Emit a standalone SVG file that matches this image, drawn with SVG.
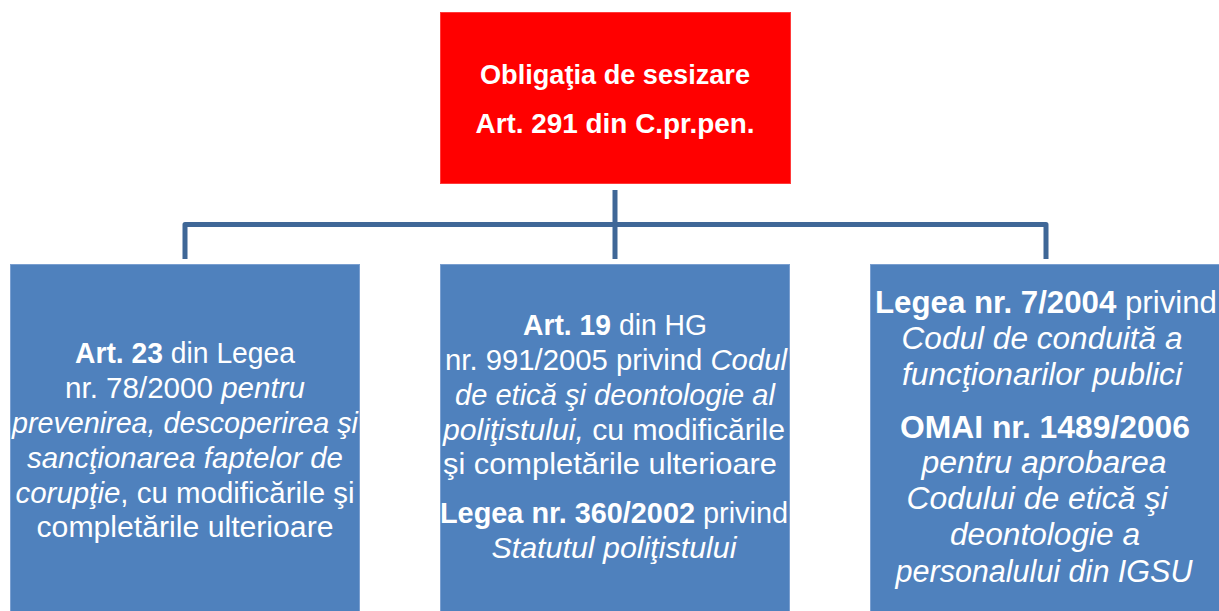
<svg xmlns="http://www.w3.org/2000/svg" width="1219" height="611" viewBox="0 0 1219 611">
<style>
  .bg { fill: #ffffff; }
  .red { fill: #FF0000; stroke: #FF3A3A; stroke-width: 1; }
  .blue { fill: #4F81BD; stroke: #7A9FD0; stroke-width: 1; }
  .conn { fill: none; stroke: #3F6797; stroke-width: 5; stroke-linejoin: round; }
  .t { font-family: "Liberation Sans", Arial, sans-serif; fill: #ffffff; text-anchor: middle; }
  .top { font-size: 27px; font-weight: bold; }
  .body { font-size: 29px; }
  .big { font-size: 31px; }
  .b { font-weight: bold; }
  .i { font-style: italic; }
</style>
<rect class="bg" x="0" y="0" width="1219" height="611"/>
<g id="connectors">
  <path class="conn" d="M615,190 V259"/>
  <path class="conn" d="M185,259 V224.5 H1046 V259"/>
</g>
<g id="node-top">
  <rect class="red" x="440.5" y="12.5" width="350" height="171"/>
  <text class="t top" x="615" y="84" textLength="270" lengthAdjust="spacingAndGlyphs">Obligaţia de sesizare</text>
  <text class="t top" x="615" y="133" textLength="279" lengthAdjust="spacingAndGlyphs">Art. 291 din C.pr.pen.</text>
</g>
<g id="node-left">
  <rect class="blue" x="10.5" y="264.5" width="349" height="352"/>
  <text class="t body" x="185" y="363" textLength="220" lengthAdjust="spacingAndGlyphs"><tspan class="b">Art. 23</tspan> din Legea</text>
  <text class="t body" x="185" y="398" textLength="240" lengthAdjust="spacingAndGlyphs">nr. 78/2000 <tspan class="i">pentru</tspan></text>
  <text class="t body i" x="185" y="433" textLength="346" lengthAdjust="spacingAndGlyphs">prevenirea, descoperirea şi</text>
  <text class="t body i" x="185" y="468" textLength="316" lengthAdjust="spacingAndGlyphs">sancţionarea faptelor de</text>
  <text class="t body" x="185" y="503" textLength="339" lengthAdjust="spacingAndGlyphs"><tspan class="i">corupţie</tspan>, cu modificările şi</text>
  <text class="t body" x="185" y="537" textLength="297" lengthAdjust="spacingAndGlyphs">completările ulterioare</text>
</g>
<g id="node-middle">
  <rect class="blue" x="440.5" y="264.5" width="349" height="352"/>
  <text class="t body" x="615" y="335" textLength="184" lengthAdjust="spacingAndGlyphs"><tspan class="b">Art. 19</tspan> din HG</text>
  <text class="t body" x="616" y="370" textLength="342" lengthAdjust="spacingAndGlyphs">nr. 991/2005 privind <tspan class="i">Codul</tspan></text>
  <text class="t body i" x="615" y="405" textLength="320" lengthAdjust="spacingAndGlyphs">de etică şi deontologie al</text>
  <text class="t body" x="614" y="440" textLength="342" lengthAdjust="spacingAndGlyphs"><tspan class="i">poliţistului,</tspan> cu modificările</text>
  <text class="t body" x="610" y="474" textLength="334" lengthAdjust="spacingAndGlyphs">şi completările ulterioare</text>
  <text class="t body" x="614" y="523" textLength="348" lengthAdjust="spacingAndGlyphs"><tspan class="b">Legea nr. 360/2002</tspan> privind</text>
  <text class="t body i" x="614" y="558" textLength="245" lengthAdjust="spacingAndGlyphs">Statutul poliţistului</text>
</g>
<g id="node-right">
  <rect class="blue" x="870.5" y="264.5" width="352" height="352"/>
  <text class="t big" x="1046" y="313" textLength="342" lengthAdjust="spacingAndGlyphs"><tspan class="b">Legea nr. 7/2004</tspan> privind</text>
  <text class="t big i" x="1042" y="349" textLength="281" lengthAdjust="spacingAndGlyphs">Codul de conduită a</text>
  <text class="t big i" x="1042" y="385" textLength="280" lengthAdjust="spacingAndGlyphs">funcţionarilor publici</text>
  <text class="t big b" x="1045" y="438" textLength="290" lengthAdjust="spacingAndGlyphs">OMAI nr. 1489/2006</text>
  <text class="t big i" x="1044" y="473" textLength="245" lengthAdjust="spacingAndGlyphs">pentru aprobarea</text>
  <text class="t big i" x="1037" y="509" textLength="261" lengthAdjust="spacingAndGlyphs">Codului de etică şi</text>
  <text class="t big i" x="1045" y="545" textLength="190" lengthAdjust="spacingAndGlyphs">deontologie a</text>
  <text class="t big i" x="1044" y="582" textLength="297" lengthAdjust="spacingAndGlyphs">personalului din IGSU</text>
</g>
</svg>
